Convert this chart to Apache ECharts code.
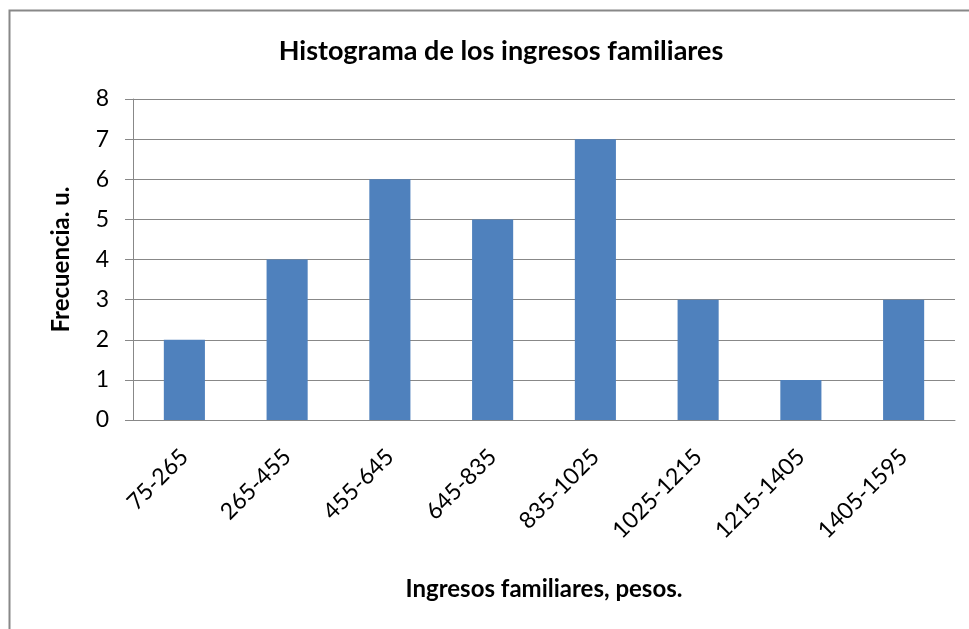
<!DOCTYPE html>
<html>
<head>
<meta charset="utf-8">
<script src="https://cdn.jsdelivr.net/npm/echarts@6/dist/echarts.min.js"></script>
<style>
    html, body { margin: 0; padding: 0; background: #fff; }
    #chart { width: 969px; height: 629px; }
</style>
</head>
<body>
<div id="chart"></div>
<script>
// data
const categories = ['75-265', '265-455', '455-645', '645-835', '835-1025', '1025-1215', '1215-1405', '1405-1595']
const frequencies = [2, 4, 6, 5, 7, 3, 1, 3]
const yTicks = [0, 1, 2, 3, 4, 5, 6, 7, 8]

const font = 'Lato, "Open Sans", sans-serif'

const chart = echarts.init(document.getElementById('chart'))

chart.setOption({
    animation: false,
    backgroundColor: '#fff',
    title: {
        text: 'Histograma de los ingresos familiares',
        left: 496,
        top: 33,
        textAlign: 'center',
        textStyle: { fontFamily: font, fontSize: 27, fontWeight: 'bold', color: '#000' }
    },
    // outer chart border (right and bottom fall outside the picture)
    graphic: [{
        type: 'rect',
        shape: { x: 9.5, y: 10.5, width: 1000, height: 700 },
        style: { fill: 'none', stroke: '#888', lineWidth: 2 },
        silent: true
    }],
    grid: { left: 133, right: 14, top: 99, bottom: 209 },
    xAxis: {
        type: 'category',
        data: categories,
        name: 'Ingresos familiares, pesos.',
        nameLocation: 'middle',
        nameGap: 157,
        nameTextStyle: { fontFamily: font, fontSize: 24, fontWeight: 'bold', color: '#000' },
        axisLine: { lineStyle: { color: '#888', width: 1 } },
        axisTick: { show: false },
        axisLabel: { rotate: 45, margin: 33, fontFamily: font, fontSize: 23, color: '#000' }
    },
    yAxis: {
        type: 'value',
        min: 0,
        max: yTicks[yTicks.length - 1],
        interval: 1,
        name: 'Frecuencia. u.',
        nameLocation: 'middle',
        nameGap: 60,
        nameRotate: 90,
        nameTextStyle: { fontFamily: font, fontSize: 24, fontWeight: 'bold', color: '#000' },
        axisLine: { show: true, lineStyle: { color: '#888', width: 1 } },
        axisTick: { show: true, length: 8, lineStyle: { color: '#888' } },
        axisLabel: { margin: 24, fontFamily: font, fontSize: 23, color: '#000' },
        splitLine: { lineStyle: { color: '#888', width: 1 } }
    },
    series: [{
        type: 'bar',
        data: frequencies,
        barCategoryGap: '60%',
        itemStyle: { color: '#4F81BD' }
    }]
})
</script>
</body>
</html>
